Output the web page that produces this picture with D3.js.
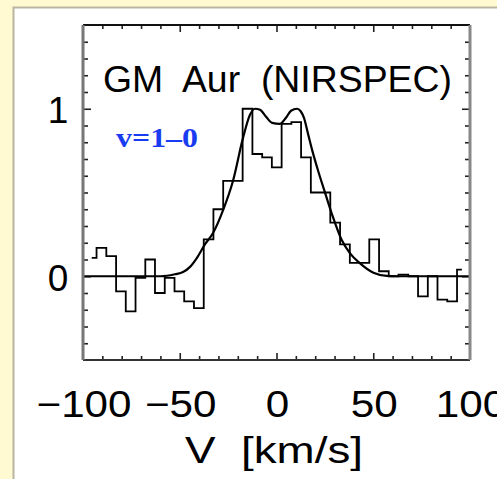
<!DOCTYPE html>
<html>
<head>
<meta charset="utf-8">
<script src="https://cdn.jsdelivr.net/npm/d3@7"></script>
<style>
  body { margin: 0; background: #fffad2; }
  svg { display: block; }
</style>
</head>
<body>
<div id="chart"></div>
<script>
// observed spectrum (histogram steps), km/s and normalised flux
var velocity = [-95.5, -90.5, -85.4, -80.4, -75.4, -70.3, -65.3, -60.3, -55.2, -50.2,
                -45.2, -40.1, -35.1, -30.1, -25.0, -20.0, -15.0, -9.9, -4.9, 0.1,
                5.2, 10.2, 15.2, 20.3, 25.3, 30.3, 35.4, 40.4, 45.4, 50.5,
                55.5, 60.5, 65.6, 70.6, 75.7, 80.7, 85.7, 90.8, 95.8];
var flux = [0.11, 0.17, 0.12, -0.09, -0.21, -0.01, 0.10, -0.10, -0.01, -0.09,
            -0.15, -0.19, 0.22, 0.40, 0.57, 0.57, 1.00, 0.73, 0.71, 0.65,
            0.91, 0.92, 0.71, 0.50, 0.50, 0.32, 0.19, 0.08, 0.08, 0.22,
            0.03, 0.00, 0.01, 0.00, -0.12, 0.00, -0.14, -0.15, 0.04];

// model profile
var modelVelocity = [-100, -60, -56.6, -52.5, -48.3, -44.7, -41.1, -37.0, -32.8, -27.6,
                     -22.5, -17.3, -13.7, -11.1, -8.5, -5.4, -2.3, 1.8, 4.9, 7.5,
                     10.6, 12.5, 14.2, 16.3, 18.5, 21.5, 24.5, 28.5, 33.7, 38.0,
                     43.2, 50.1, 57.0, 62, 100];
var modelFlux = [0, 0, 0.003, 0.012, 0.025, 0.056, 0.11, 0.19, 0.258, 0.395,
                 0.569, 0.826, 0.964, 1.0, 0.994, 0.952, 0.916, 0.910, 0.946, 0.988,
                 1.0, 0.985, 0.945, 0.85, 0.75, 0.63, 0.52, 0.376, 0.216, 0.137,
                 0.077, 0.021, 0.002, 0, 0];

var xTickLabels = [-100, -50, 0, 50, 100];
var yTickLabels = [0, 1];

var title = "GM  Aur  (NIRSPEC)";
var lineLabel = "v=1\u20130";
var xTitle = "V  [km/s]";

var width = 497, height = 479;
var margin = { top: 25, right: 27, bottom: 119, left: 83 };

var svg = d3.select("#chart").append("svg")
    .attr("width", width)
    .attr("height", height);

svg.append("rect")
    .attr("width", width).attr("height", height)
    .attr("fill", "#fffad2");

// white panel
svg.append("rect")
    .attr("x", 13.5).attr("y", 7.5)
    .attr("width", width).attr("height", height)
    .attr("fill", "#fff")
    .attr("stroke", "#b9b5a0")
    .attr("stroke-width", 2);

var x = d3.scaleLinear().domain([-100, 100]).range([margin.left, width - margin.right]);
var y = d3.scaleLinear().domain([-0.5, 1.5]).range([height - margin.bottom, margin.top]);

var x0 = x.range()[0], x1 = x.range()[1];
var y0 = y.range()[0], y1 = y.range()[1];

// ticks (inward, on all four sides)
var xMinor = d3.range(-90, 100, 10).filter(function(d) { return d % 50 != 0; });
var xMajor = [-50, 0, 50];
var yMinor = d3.range(-4, 15).map(function(d) { return d / 10; }).filter(function(d) { return d != 0 && d != 1; });
var yMajor = [0, 1];

function tickAxis(axis, vals, size, transform) {
    var g = svg.append("g")
        .attr("transform", transform)
        .call(axis.tickValues(vals).tickSize(size).tickFormat(""));
    g.select(".domain").remove();
    g.selectAll("line").attr("stroke", "#222").attr("stroke-width", 1.6);
}

tickAxis(d3.axisBottom(x), xMinor, -4, "translate(0," + y0 + ")");
tickAxis(d3.axisBottom(x), xMajor, -7, "translate(0," + y0 + ")");
tickAxis(d3.axisTop(x), xMinor, -4, "translate(0," + y1 + ")");
tickAxis(d3.axisTop(x), xMajor, -7, "translate(0," + y1 + ")");
tickAxis(d3.axisLeft(y), yMinor, -5, "translate(" + x0 + ",0)");
tickAxis(d3.axisLeft(y), yMajor, -8, "translate(" + x0 + ",0)");
tickAxis(d3.axisRight(y), yMinor, -5, "translate(" + x1 + ",0)");
tickAxis(d3.axisRight(y), yMajor, -8, "translate(" + x1 + ",0)");

// model curve
var modelLine = d3.line()
    .x(function(d) { return x(d[0]); })
    .y(function(d) { return y(d[1]); })
    .curve(d3.curveMonotoneX);

svg.append("path")
    .datum(d3.zip(modelVelocity, modelFlux))
    .attr("d", modelLine)
    .attr("fill", "none")
    .attr("stroke", "#000")
    .attr("stroke-width", 2.2);

// histogram of the data
var stepLine = d3.line()
    .x(function(d) { return x(d[0]); })
    .y(function(d) { return y(d[1]); })
    .curve(d3.curveStep);

svg.append("path")
    .datum(d3.zip(velocity, flux))
    .attr("d", stepLine)
    .attr("fill", "none")
    .attr("stroke", "#000")
    .attr("stroke-width", 1.8);

// frame
svg.append("line").attr("x1", x0).attr("x2", x1).attr("y1", y1).attr("y2", y1)
    .attr("stroke", "#111").attr("stroke-width", 2);
svg.append("line").attr("x1", x0).attr("x2", x1).attr("y1", y0).attr("y2", y0)
    .attr("stroke", "#333").attr("stroke-width", 2);
svg.append("line").attr("x1", x0).attr("x2", x0).attr("y1", y1).attr("y2", y0)
    .attr("stroke", "#777").attr("stroke-width", 3);
svg.append("line").attr("x1", x1).attr("x2", x1).attr("y1", y1).attr("y2", y0)
    .attr("stroke", "#888").attr("stroke-width", 3);

var sans = "'Liberation Sans', Arial, Helvetica, sans-serif";

// tick labels (the 100 runs off the right edge, as in the original)
svg.selectAll(".xlabel")
    .data(xTickLabels)
    .enter().append("text")
    .attr("class", "xlabel")
    .attr("x", function(d) { return x(d) + 1; })
    .attr("y", y0 + 57)
    .attr("text-anchor", "middle")
    .attr("font-family", sans)
    .attr("font-size", 37)
    .attr("letter-spacing", 2)
    .text(function(d) { return d < 0 ? "\u2212" + Math.abs(d) : d; })
    .each(function() {
        var w = this.getComputedTextLength();
        d3.select(this).attr("letter-spacing", null)
            .attr("textLength", w * 1.04)
            .attr("lengthAdjust", "spacingAndGlyphs");
    });

svg.selectAll(".ylabel")
    .data(yTickLabels)
    .enter().append("text")
    .attr("class", "ylabel")
    .attr("x", 58)
    .attr("y", function(d) { return y(d) + 14.5; })
    .attr("text-anchor", "middle")
    .attr("font-family", sans)
    .attr("font-size", 37)
    .text(function(d) { return d; });

// axis title
svg.append("text")
    .attr("x", 185)
    .attr("y", 463)
    .attr("font-family", sans)
    .attr("font-size", 36)
    .attr("xml:space", "preserve")
    .style("white-space", "pre")
    .attr("textLength", 178)
    .attr("lengthAdjust", "spacingAndGlyphs")
    .text(xTitle);

// plot title
svg.append("text")
    .attr("x", 103)
    .attr("y", 92)
    .attr("font-family", sans)
    .attr("font-size", 36)
    .attr("xml:space", "preserve")
    .style("white-space", "pre")
    .attr("textLength", 349)
    .attr("lengthAdjust", "spacingAndGlyphs")
    .text(title);

svg.append("text")
    .attr("x", 116)
    .attr("y", 147)
    .attr("font-family", "'Liberation Serif', 'Times New Roman', serif")
    .attr("font-weight", "bold")
    .attr("font-size", 27)
    .attr("fill", "#1a3cf0")
    .attr("textLength", 82)
    .attr("lengthAdjust", "spacingAndGlyphs")
    .text(lineLabel);
</script>
</body>
</html>
